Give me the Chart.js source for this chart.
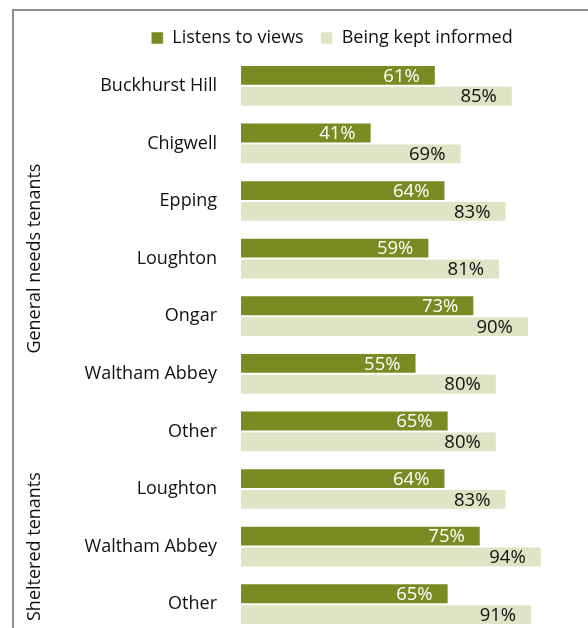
<!DOCTYPE html>
<html lang="en">

<head>
  <meta charset="UTF-8">
  <meta name="viewport" content="width=device-width, initial-scale=1.0">
  <script src="https://cdn.jsdelivr.net/npm/chart.js@4.4.0/dist/chart.umd.min.js"></script>
  <title>Satisfaction by area</title>
  <style>
    html, body { margin: 0; padding: 0; overflow: hidden; background: #fff; }
    #wrap { position: relative; width: 588px; height: 640px; }
  </style>
</head>

<body>
  <div id="wrap"><canvas id="myChart" width="588" height="640"></canvas></div>
  <script>
    const places = ['Buckhurst Hill', 'Chigwell', 'Epping', 'Loughton', 'Ongar', 'Waltham Abbey', 'Other', 'Loughton', 'Waltham Abbey', 'Other']
    const listens = [61, 41, 64, 59, 73, 55, 65, 64, 75, 65]
    const informed = [85, 69, 83, 81, 90, 80, 80, 83, 94, 91]
    const groupNames = ['General needs tenants', 'Sheltered tenants']
    const groupFirst = [0, 7]
    const groupLast = [6, 9]

    const FONT = 'Open Sans'

    // grey frame line along the top and left
    const frame = {
      id: 'frame',
      beforeDraw: (chart) => {
        const ctx = chart.ctx
        ctx.save()
        ctx.fillStyle = '#fff'
        ctx.fillRect(0, 0, chart.width, chart.height)
        ctx.strokeStyle = '#8f8f8f'
        ctx.lineWidth = 2
        ctx.beginPath()
        ctx.moveTo(13, chart.height)
        ctx.lineTo(13, 10)
        ctx.lineTo(chart.width, 10)
        ctx.stroke()
        ctx.restore()
      }
    }

    // value labels inside the end of each bar
    const valueLabels = {
      id: 'valueLabels',
      afterDatasetsDraw: (chart) => {
        const ctx = chart.ctx
        ctx.save()
        ctx.font = '18.5px "' + FONT + '"'
        ctx.textAlign = 'right'
        ctx.textBaseline = 'middle'
        chart.data.datasets.forEach((ds, i) => {
          ctx.fillStyle = i === 0 ? '#ffffff' : '#111111'
          chart.getDatasetMeta(i).data.forEach((bar, j) => {
            ctx.fillText(ds.data[j] + '%', bar.x - 16, bar.y + 1)
          })
        })
        ctx.restore()
      }
    }

    // category names and rotated group names on the left
    const sideLabels = {
      id: 'sideLabels',
      afterDraw: (chart) => {
        const ctx = chart.ctx
        const y = chart.scales.y
        ctx.save()
        ctx.font = '18px "' + FONT + '"'
        ctx.fillStyle = '#111'
        ctx.textBaseline = 'middle'
        ctx.textAlign = 'right'
        places.forEach((name, i) => {
          ctx.fillText(name, chart.chartArea.left - 23, y.getPixelForValue(i))
        })
        ctx.textAlign = 'center'
        groupNames.forEach((name, i) => {
          const mid = (y.getPixelForValue(groupFirst[i]) + y.getPixelForValue(groupLast[i])) / 2
          ctx.save()
          ctx.translate(35, mid)
          ctx.rotate(-Math.PI / 2)
          ctx.fillText(name, 0, 0)
          ctx.restore()
        })
        ctx.restore()
      }
    }

    const ctx = document.getElementById('myChart')
    const myChart = new Chart(ctx, {
      type: 'bar',
      data: {
        labels: places,
        datasets: [
          {
            label: 'Listens to views',
            data: listens,
            backgroundColor: '#7b8a22',
            borderColor: 'rgba(255,255,255,0.5)',
            borderWidth: 1,
            borderSkipped: false
          },
          {
            label: 'Being kept informed',
            data: informed,
            backgroundColor: '#dde5c5',
            borderColor: 'rgba(255,255,255,0.7)',
            borderWidth: 1,
            borderSkipped: false
          }
        ]
      },
      plugins: [frame, valueLabels, sideLabels],
      options: {
        indexAxis: 'y',
        responsive: false,
        animation: false,
        categoryPercentage: 0.724,
        barPercentage: 1,
        layout: {
          padding: { left: 103, right: 27, top: 12, bottom: 7 }
        },
        plugins: {
          tooltip: { enabled: false },
          legend: {
            position: 'top',
            labels: {
              boxWidth: 12,
              boxHeight: 12,
              padding: 17,
              color: '#111',
              font: { size: 18, family: FONT }
            }
          }
        },
        scales: {
          x: {
            min: 0,
            max: 100,
            display: false
          },
          y: {
            grid: { display: false, drawTicks: false },
            border: { display: false },
            afterFit: (scale) => { scale.width = 137 },
            ticks: { display: false }
          }
        }
      }
    })
  </script>
</body>

</html>
